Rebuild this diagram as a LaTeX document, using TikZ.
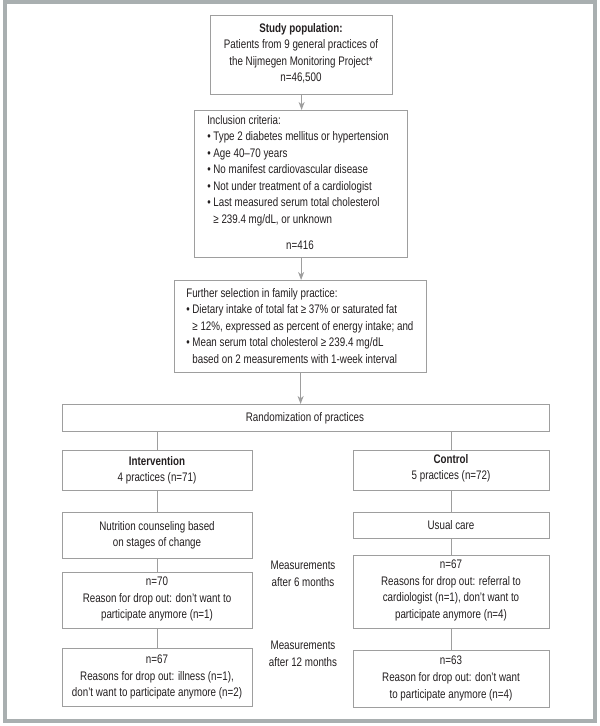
\documentclass[tikz,border=0pt]{standalone}
\usepackage{fontspec}
\setmainfont{Liberation Sans}[FakeStretch=0.79]
\usetikzlibrary{arrows.meta}
\definecolor{framec}{HTML}{A9AFB0}
\definecolor{lnc}{HTML}{9E9E9E}
\definecolor{txtc}{HTML}{231F20}
\newcommand\bx[5]{\node[boxst, minimum width={(#4-#2)*0.75pt}, minimum height={(#5-#3)*0.75pt}] (#1) at (#2,#3) {};}
\begin{document}
\begin{tikzpicture}[x=0.75pt,y=-0.75pt,
  boxst/.style={draw=lnc, line width=0.9pt, inner sep=0pt, anchor=north west},
  tx/.style={text=txtc, inner sep=0pt, font=\fontsize{9.3pt}{12.4pt}\selectfont},
  txl/.style={tx, anchor=north west, align=left},
  txc/.style={tx, anchor=north, align=center},
  arr/.style={draw=lnc, line width=0.9pt, -{Stealth[length=6pt,width=4.5pt,inset=1.8pt]}},
  con/.style={draw=lnc, line width=0.9pt}]
\useasboundingbox (0,0) rectangle (600,726);
\draw[framec, line width=3pt] (5,1.5) rectangle (595,721);
% boxes
\bx{b1}{210}{15}{392}{94}
\bx{b2}{194}{110}{407}{257}
\bx{b3}{174}{280}{426}{372}
\bx{rnd}{62}{404}{549}{431}
\bx{int}{62}{450}{252}{490}
\bx{ctl}{353}{450}{549}{490}
\bx{nut}{62}{512}{252}{558}
\bx{usu}{353}{512}{549}{538}
\bx{l6}{62}{572}{252}{628}
\bx{r6}{353}{555}{549}{628}
\bx{l12}{62}{648}{252}{706}
\bx{r12}{353}{650}{549}{707}
% texts
\node[txc] (t1) at (301,23) {\textbf{Study population:}\\Patients from 9 general practices of\\the Nijmegen Monitoring Project*\\n=46,500};
\node[txl] (t2) at (207,115) {Inclusion criteria:\\• Type 2 diabetes mellitus or hypertension\\• Age 40–70 years\\• No manifest cardiovascular disease\\• Not under treatment of a cardiologist\\• Last measured serum total cholesterol\\\phantom{• }≥ 239.4 mg/dL, or unknown};
\node[tx] (t2n) at (300,245) {n=416};
\node[txl] (t3) at (186,288) {Further selection in family practice:\\• Dietary intake of total fat ≥ 37\% or saturated fat\\\phantom{• }≥ 12\%, expressed as percent of energy intake; and\\• Mean serum total cholesterol ≥ 239.4 mg/dL\\\phantom{• }based on 2 measurements with 1-week interval};
\node[tx] (trnd) at (305,418) {Randomization of practices};
\node[txc] (tint) at (157,456) {\textbf{Intervention}\\4 practices (n=71)};
\node[txc] (tctl) at (451,454) {\textbf{Control}\\5 practices (n=72)};
\node[txc] (tnut) at (157,521) {Nutrition counseling based\\on stages of change};
\node[tx] (tusu) at (451,525) {Usual care};
\node[txc] (tl6) at (157,577) {n=70\\Reason for drop out: don’t want to\\participate anymore (n=1)};
\node[txc] (tr6) at (451,560) {n=67\\Reasons for drop out: referral to\\cardiologist (n=1), don’t want to\\participate anymore (n=4)};
\node[txc] (tl12) at (157,655) {n=67\\Reasons for drop out: illness (n=1),\\don’t want to participate anymore (n=2)};
\node[txc] (tr12) at (451,656) {n=63\\Reason for drop out: don’t want\\to participate anymore (n=4)};
\node[txc] (tm6) at (303,561) {Measurements\\after 6 months};
\node[txc] (tm12) at (303,641) {Measurements\\after 12 months};
% connectors
\draw[arr] (b1.south) -- (b1.south |- b2.north);
\draw[arr] (b2.south) -- (b2.south |- b3.north);
\draw[arr] (b3.south) -- (b3.south |- rnd.north);
\draw[con] (int.north |- rnd.south) -- (int.north);
\draw[con] (ctl.north |- rnd.south) -- (ctl.north);
\draw[con] (int.south) -- (nut.north);
\draw[con] (nut.south) -- (l6.north);
\draw[con] (l6.south) -- (l12.north);
\draw[con] (ctl.south) -- (usu.north);
\draw[con] (usu.south) -- (r6.north);
\draw[con] (r6.south) -- (r12.north);
\end{tikzpicture}
\end{document}
